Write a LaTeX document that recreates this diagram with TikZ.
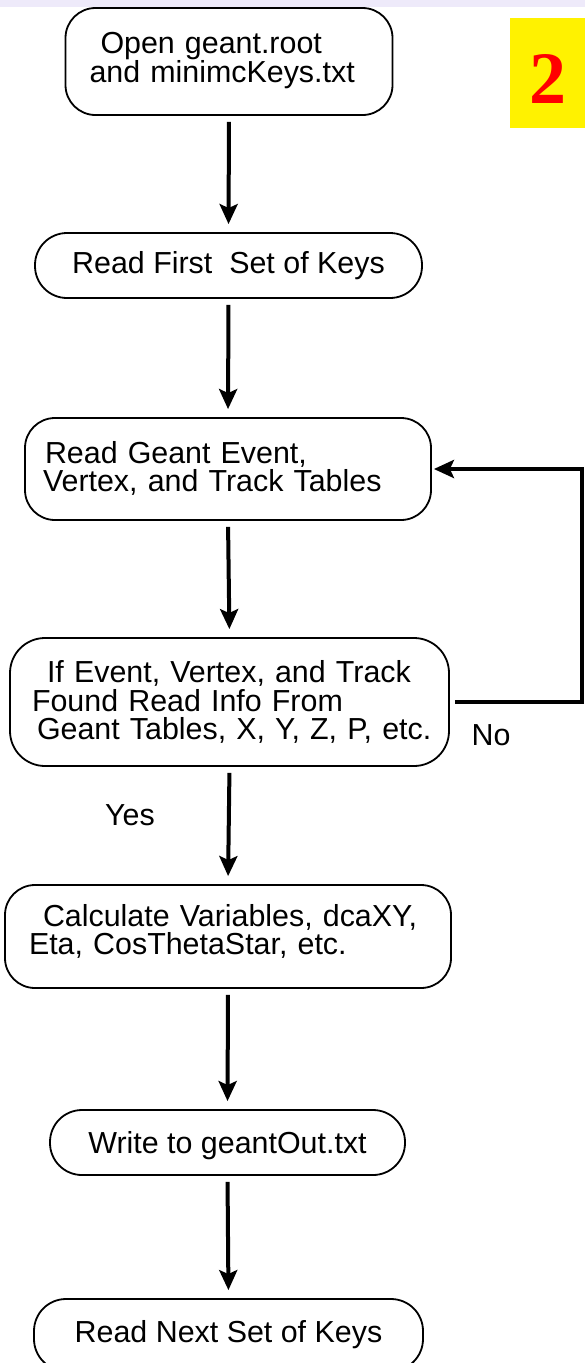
\documentclass[tikz,border=0pt]{standalone}
\usepackage{fontspec}
\setmainfont{Liberation Sans}
\newfontfamily\tagfont{Liberation Serif}
\usetikzlibrary{positioning,arrows.meta}
\definecolor{bandlav}{RGB}{238,234,250}

\begin{document}
\begin{tikzpicture}[
  x=1pt, y=-1pt,
  font=\fontsize{30.4}{28.3}\selectfont,
  box/.style={rectangle, draw=black, line width=1.8pt, rounded corners=30pt,
              inner sep=0pt, align=left},
  pill/.style={box, align=center, minimum height=65pt, rounded corners=32pt},
  arr/.style={-{Stealth[length=20pt, width=18pt, inset=4pt]}, draw=black,
              line width=4pt, shorten <=6pt, shorten >=8pt}
]
\useasboundingbox (0,0) rectangle (585,1363);
\fill[bandlav] (0,0) rectangle (585,7);

% flow boxes
\node[box, minimum width=327pt, minimum height=107pt, text width=279pt,
      inner xsep=24pt, text depth=38pt] (open) at (229,61.5)
      {\hspace*{11pt}Open geant.root\\and minimcKeys.txt};
\node[pill, minimum width=387pt] (first) at (228.5,265.5) {Read First\ \ Set of Keys};
\node[box, minimum width=406pt, minimum height=102pt, text width=370pt,
      inner xsep=18pt, text depth=34pt] (tables) at (228,469)
      {\hspace*{2pt}Read Geant Event,\\Vertex, and Track Tables};
\node[box, minimum width=439pt, minimum height=128pt, text width=395pt,
      inner xsep=22pt, rounded corners=35pt] (found) at (229.5,702)
      {\hspace*{15pt}If Event, Vertex, and Track\\Found Read Info From\\\mbox{\hspace*{5pt}Geant Tables, X, Y, Z, P, etc.}};
\node[box, minimum width=446pt, minimum height=103pt, text width=398pt,
      inner xsep=24pt, text depth=43pt] (calc) at (228,936.5)
      {\hspace*{14pt}Calculate Variables, dcaXY,\\Eta, CosThetaStar, etc.};
\node[pill, minimum width=355pt, text depth=0pt] (write) at (227.5,1142.5) {Write to geantOut.txt};
\node[pill, minimum width=389pt, minimum height=72pt] (next) at (228.5,1335) {Read Next Set of Keys};

% page tag
\node[fill=yellow, minimum width=75pt, minimum height=110pt, inner sep=0pt,
      text height=60pt, text depth=0pt, text=red,
      font=\tagfont\bfseries\fontsize{74}{74}\selectfont] (tag) at (547.5,73) {2};

% arrows
\draw[arr] (open.south) -- (first.north);
\draw[arr] (first.south) -- (tables.north);
\draw[arr] (tables.south) -- (found.north);
\draw[arr] (found.south) -- (calc.north);
\draw[arr] (calc.south) -- (write.north);
\draw[arr] (write.south) -- (next.north);

% loop back
\coordinate (back) at (582,0);
\draw[arr, shorten <=5pt, shorten >=2pt] (found.east) -- (found.east -| back) |- (tables.east);
\node (no) at (491,735) {No};
\node (yes) at (130,815) {Yes};
\end{tikzpicture}
\end{document}
